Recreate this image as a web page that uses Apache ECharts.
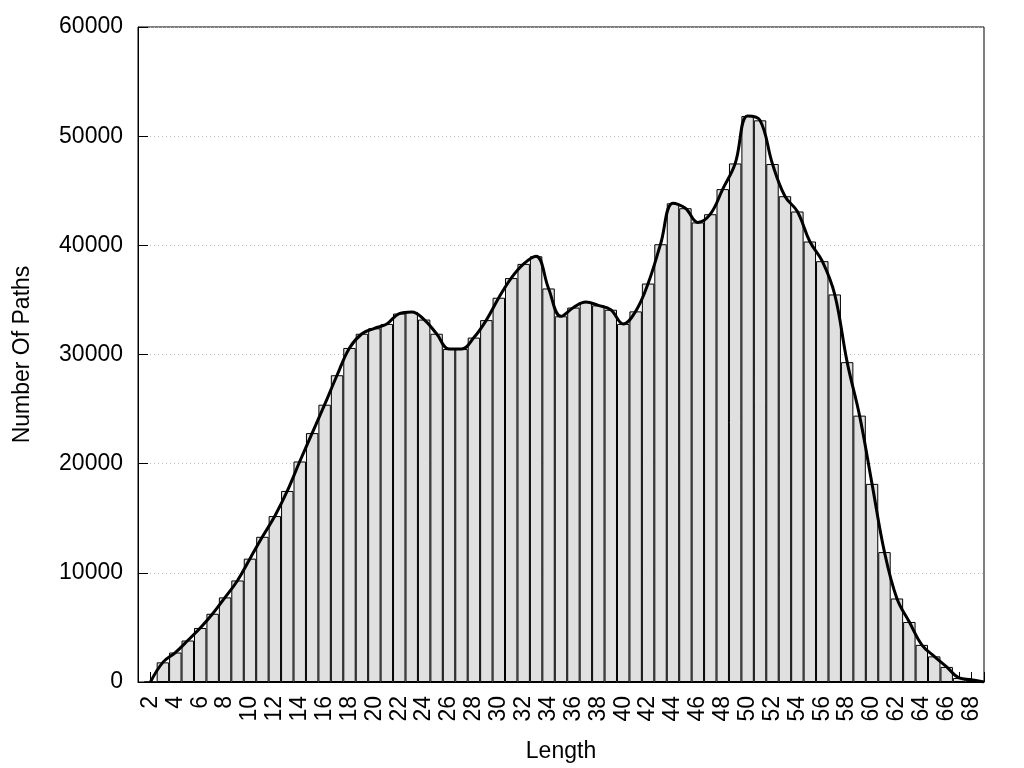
<!DOCTYPE html>
<html>
<head>
<meta charset="utf-8">
<script src="https://cdn.jsdelivr.net/npm/echarts@6/dist/echarts.min.js"></script>
<style>
html,body{margin:0;padding:0;background:#fff;}
#chart{width:1024px;height:768px;}
</style>
</head>
<body>
<div id="chart"></div>
<script>
// Path lengths (categories) 1..69
const lengths = [];
for (let i = 1; i <= 69; i++) lengths.push(String(i));

// Number of paths per length (index 0 = length 1)
const paths = [
  null, 0, 1800, 2700, 3800, 4950, 6250, 7750, 9300, 11300,
  13300, 15200, 17500, 20200, 22800, 25400, 28100, 30600, 31900, 32400,
  32800, 33750, 33900, 33200, 31900, 30500, 30500, 31550, 33150, 35200,
  37000, 38300, 39000, 36050, 33500, 34300, 34800, 34500, 34100, 32800,
  33950, 36500, 40100, 43850, 43400, 42100, 42850, 45150, 47500, 51850,
  51450, 47450, 44500, 43100, 40350, 38550, 35500, 29300, 24400, 18150,
  11900, 7650, 5500, 3400, 2350, 1380, 370, 210, 0
];

const yTicks = { min: 0, max: 60000, interval: 10000 };
const xTitle = 'Length';
const yTitle = 'Number Of Paths';

const FONT = "'Liberation Sans', Arial, sans-serif";
const FS = 23;

const chart = echarts.init(document.getElementById('chart'), null, { renderer: 'canvas' });
chart.setOption({
  animation: false,
  backgroundColor: '#ffffff',
  grid: {
    left: 138, right: 40, top: 27, bottom: 86,
    show: true, borderColor: '#000', borderWidth: 1, backgroundColor: 'transparent'
  },
  xAxis: {
    type: 'category',
    data: lengths,
    boundaryGap: false,
    name: xTitle,
    nameLocation: 'middle',
    nameGap: 58,
    nameTextStyle: { fontFamily: FONT, fontSize: FS, color: '#000' },
    axisLine: { show: true, lineStyle: { color: '#000', width: 1 } },
    axisTick: { show: true, inside: true, length: 10, interval: 0, lineStyle: { color: '#000', width: 1 } },
    axisLabel: {
      interval: function (idx, val) { return Number(val) % 2 === 0; },
      rotate: 90,
      margin: 14,
      fontFamily: FONT, fontSize: FS, color: '#000'
    },
    splitLine: { show: false }
  },
  yAxis: {
    type: 'value',
    min: yTicks.min, max: yTicks.max, interval: yTicks.interval,
    name: yTitle,
    nameLocation: 'middle',
    nameGap: 104,
    nameTextStyle: { fontFamily: FONT, fontSize: FS, color: '#000' },
    axisLine: { show: true, lineStyle: { color: '#000', width: 1 } },
    axisTick: { show: true, inside: true, length: 10, lineStyle: { color: '#000', width: 1 } },
    axisLabel: {
      margin: 15, fontFamily: FONT, fontSize: FS, color: '#000',
      formatter: function (v) { return String(v); }
    },
    splitLine: { show: true, lineStyle: { color: '#bbbbbb', width: 1, type: [1, 3] } }
  },
  series: [
    {
      type: 'bar',
      data: paths.map(function (v, i) { return i === paths.length - 1 ? null : v; }),
      barCategoryGap: '0%',
      clip: true,
      itemStyle: { color: '#e0e0e0', borderColor: '#000', borderWidth: 1 },
      z: 2
    },
    {
      type: 'line',
      data: paths,
      smooth: 0.4,
      showSymbol: false,
      symbol: 'none',
      lineStyle: { color: '#000', width: 3 },
      z: 3
    }
  ]
});
</script>
</body>
</html>
